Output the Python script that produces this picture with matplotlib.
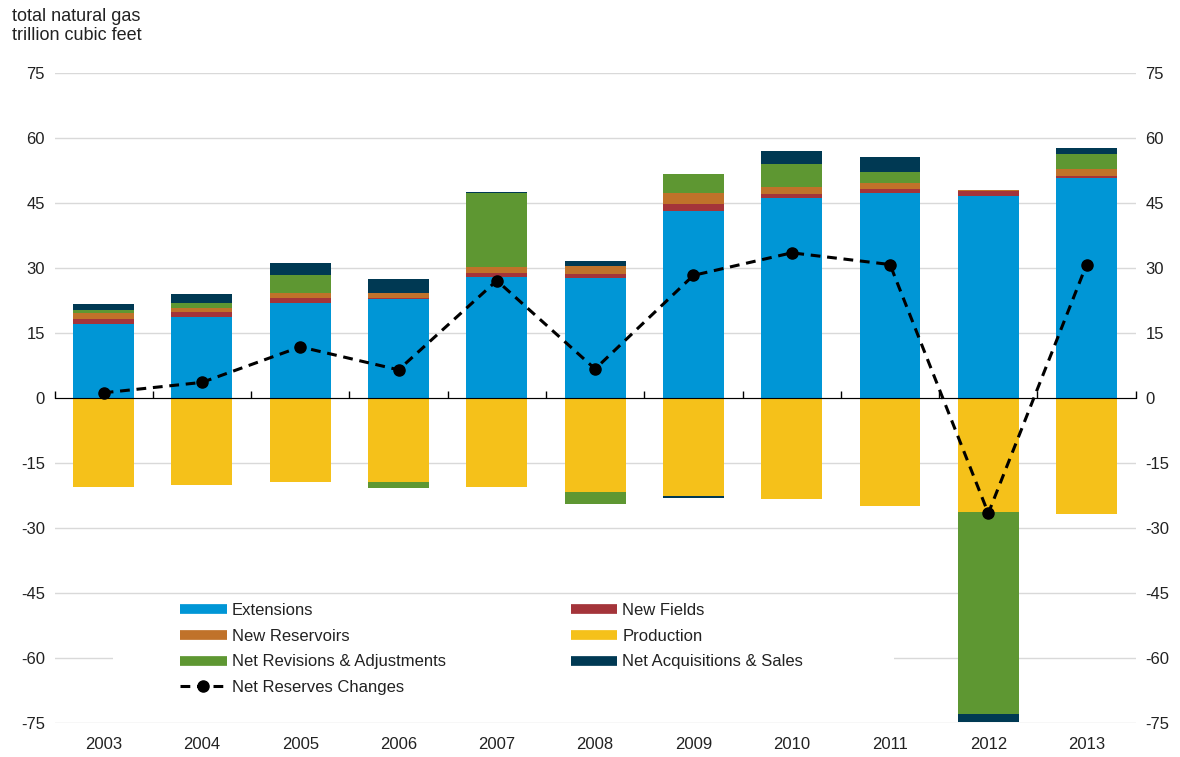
import numpy as np
import matplotlib
matplotlib.use("Agg")
import matplotlib.pyplot as plt
from matplotlib.lines import Line2D
from matplotlib.patches import Rectangle

plt.rcParams['font.family'] = ['Liberation Sans', 'DejaVu Sans']
plt.rcParams['axes.unicode_minus'] = False

years = ['2003', '2004', '2005', '2006', '2007', '2008', '2009', '2010', '2011', '2012', '2013']

# trillion cubic feet
extensions = [17.0, 18.8, 22.0, 22.8, 28.0, 27.8, 43.2, 46.1, 47.4, 46.7, 50.8]
new_fields = [1.2, 1.0, 1.0, 0.3, 0.9, 0.8, 1.6, 1.0, 0.9, 1.1, 0.4]
new_reservoirs = [1.5, 1.0, 1.2, 1.1, 1.3, 1.9, 2.6, 1.5, 1.2, 0.2, 1.6]
production = [-20.5, -20.1, -19.5, -19.5, -20.5, -21.7, -22.6, -23.4, -24.9, -26.2, -26.8]
revisions = [0.7, 1.2, 4.1, -1.3, 17.0, -2.8, 4.2, 5.5, 2.7, -46.7, 3.4]
acquisitions = [1.3, 1.9, 2.9, 3.2, 0.3, 1.0, -0.4, 2.8, 3.5, -1.9, 1.4]
net_changes = [1.2, 3.6, 11.8, 6.5, 27.1, 6.7, 28.3, 33.5, 30.8, -26.6, 30.8]

series = [
    ('Extensions', extensions, '#0096d6'),
    ('New Fields', new_fields, '#a4343a'),
    ('New Reservoirs', new_reservoirs, '#c0722a'),
    ('Production', production, '#f5c11a'),
    ('Net Revisions & Adjustments', revisions, '#5e9732'),
    ('Net Acquisitions & Sales', acquisitions, '#003953'),
]

fig = plt.figure(figsize=(11.8, 7.57), dpi=100)
ax = fig.add_axes([0.0462, 0.0449, 0.9163, 0.8587])

x = np.arange(len(years))
pos_bottom = np.zeros(len(years))
neg_bottom = np.zeros(len(years))
colors = {}
for name, vals, col in series:
    v = np.array(vals)
    bottom = np.where(v >= 0, pos_bottom, neg_bottom)
    ax.bar(x, v, 0.62, bottom=bottom, color=col, zorder=3, linewidth=0)
    pos_bottom += np.where(v >= 0, v, 0)
    neg_bottom += np.where(v < 0, v, 0)
    colors[name] = col

ax.plot(x, net_changes, color='black', linestyle=(0, (3.2, 2.2)), lw=2.2,
        marker='o', markersize=8, zorder=5)

ax.set_xlim(-0.5, 10.5)
ax.set_ylim(-75, 75)
ax.set_yticks(np.arange(-75, 76, 15))
ax.grid(axis='y', color='#d9d9d9', lw=1, zorder=0)
for s in ax.spines.values():
    s.set_visible(False)
ax.tick_params(axis='y', length=0, labelsize=12, labelcolor='#222222', pad=7,
               labelright=True, right=False)
ax.set_xticks(x)
ax.set_xticklabels(years)
ax.tick_params(axis='x', length=0, labelsize=12, labelcolor='#222222', pad=10)

# zero line with category boundary ticks
zero = ax.secondary_xaxis(0.5)
zero.set_xticks(np.arange(-0.5, 11, 1))
zero.set_xticklabels([])
zero.tick_params(axis='x', direction='out', length=5, width=1, color='black')
zero.spines['bottom'].set_color('black')
zero.spines['bottom'].set_linewidth(1.2)
zero.set_zorder(4)

# white box behind the legend
ax.add_patch(Rectangle((0.054, 0.017), 0.722, 0.177, transform=ax.transAxes,
                       facecolor='white', edgecolor='none', zorder=2))

order = ['Extensions', 'New Reservoirs', 'Net Revisions & Adjustments', None,
         'New Fields', 'Production', 'Net Acquisitions & Sales']
handles, labels = [], []
for name in order:
    if name is None:
        handles.append(Line2D([], [], color='black', linestyle=(0, (3.2, 2.2)), lw=2.2,
                              marker='o', markersize=8))
        labels.append('Net Reserves Changes')
    else:
        handles.append(Line2D([], [], color=colors[name], lw=7, solid_capstyle='butt'))
        labels.append(name)
leg = fig.legend(handles, labels, loc='upper left', bbox_to_anchor=(180 / 1180, 1 - 603 / 757),
                 ncol=2, frameon=False, fontsize=12, handlelength=2.8, handletextpad=0.3,
                 columnspacing=7.5, labelspacing=0.64, borderpad=0, borderaxespad=0)
for t in leg.get_texts():
    t.set_color('#222222')

fig.text(12 / 1180, 1 - 8 / 757, 'total natural gas\ntrillion cubic feet', ha='left', va='top',
         fontsize=13, color='#222222', linespacing=1.15)

fig.savefig('out.png', dpi=100)
